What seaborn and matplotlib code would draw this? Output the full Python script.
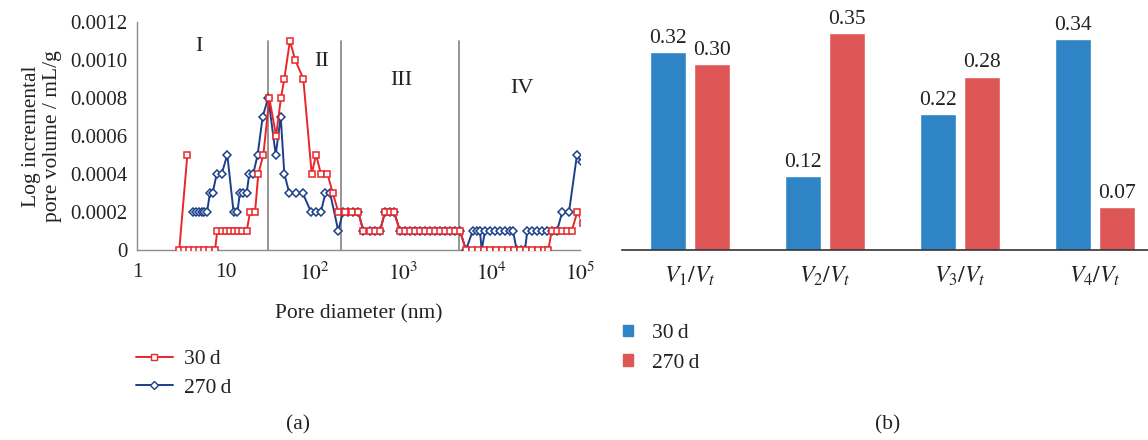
import numpy as np
import pandas as pd
import matplotlib
matplotlib.use("Agg")
import matplotlib.pyplot as plt
from matplotlib.lines import Line2D
from matplotlib.patches import Patch
import seaborn as sns

# ---- (a) pore size distribution -------------------------------------------
# 30 d curve: pore diameter (nm) and log incremental pore volume (mL/g)
d30 = [3.70, 3.00, 3.42, 3.89, 4.43, 5.05, 5.75, 6.55, 7.59,
       8.06, 8.99, 10.0, 11.2, 12.5, 13.9, 15.5, 17.3,
       18.9, 21.5, 23.4, 26.7,
       31.1, 37.1, 42.2, 46.0, 53.3, 60.7, 75.3,
       93.7, 105, 119, 141, 162,
       187, 223, 265, 315,
       358, 427, 485, 553,
       630, 717, 796,
       930, 1059, 1205, 1373, 1563, 1782, 2028, 2307, 2630, 2992, 3412, 3882, 4426,
       5164, 6039, 7063, 8245, 9640, 11270, 13180, 15380, 17990, 21040, 24600,
       28710, 33570, 39260, 43850,
       47960, 54950, 62660, 71300, 80570, 93300, 108000]
v30 = [0.0005, 0, 0, 0, 0, 0, 0, 0, 0,
       0.0001, 0.0001, 0.0001, 0.0001, 0.0001, 0.0001, 0.0001, 0.0001,
       0.0002, 0.0002, 0.0004, 0.0005,
       0.0008, 0.0006, 0.0008, 0.0009, 0.0011, 0.0010, 0.0009,
       0.0004, 0.0005, 0.0004, 0.0004, 0.0003,
       0.0002, 0.0002, 0.0002, 0.0002,
       0.0001, 0.0001, 0.0001, 0.0001,
       0.0002, 0.0002, 0.0002,
       0.0001, 0.0001, 0.0001, 0.0001, 0.0001, 0.0001, 0.0001, 0.0001, 0.0001,
       0.0001, 0.0001, 0.0001, 0.0001,
       0, 0, 0, 0, 0, 0, 0, 0, 0, 0, 0,
       0, 0, 0, 0,
       0.0001, 0.0001, 0.0001, 0.0001, 0.0001, 0.0002, 0.00014]

# 270 d curve
d270 = [4.34, 4.66, 5.00, 5.36, 5.75, 6.17, 6.67, 7.15, 7.94, 9.03, 10.45,
        12.3, 13.6, 14.5, 15.8, 17.3, 18.5, 20.5, 23.0, 26.2, 30.3,
        36.8, 41.9, 46.0, 52.3, 62.3, 74.1, 92.0, 105, 119, 134, 151,
        187, 211, 241, 274, 315,
        358, 427, 485, 553, 630, 717, 796,
        930, 1059, 1205, 1373, 1563, 1782, 2028, 2307, 2630, 2992, 3412, 3882, 4426,
        5164, 6150, 6830, 7430, 7770,
        8470, 9640, 10990, 12510, 14250, 16220, 17520,
        19310, 21580, 23930,
        25410, 28710, 32740, 37240, 42440, 48300, 54950,
        63100, 75160, 92480, 104000]
v270 = [0.0002, 0.0002, 0.0002, 0.0002, 0.0002, 0.0002, 0.0003, 0.0003, 0.0004, 0.0004, 0.0005,
        0.0002, 0.0002, 0.0003, 0.0003, 0.0003, 0.0004, 0.0004, 0.0005, 0.0007, 0.0008,
        0.0005, 0.0007, 0.0004, 0.0003, 0.0003, 0.0003, 0.0002, 0.0002, 0.0002, 0.0003, 0.0003,
        0.0001, 0.0002, 0.0002, 0.0002, 0.0002,
        0.0001, 0.0001, 0.0001, 0.0001, 0.0002, 0.0002, 0.0002,
        0.0001, 0.0001, 0.0001, 0.0001, 0.0001, 0.0001, 0.0001, 0.0001, 0.0001,
        0.0001, 0.0001, 0.0001, 0.0001,
        0, 0.0001, 0.0001, 0.0001, 0,
        0.0001, 0.0001, 0.0001, 0.0001, 0.0001, 0.0001, 0.0001,
        0, 0, 0,
        0.0001, 0.0001, 0.0001, 0.0001, 0.0001, 0.0001, 0.0001,
        0.0002, 0.0002, 0.0005, 0.00046]

# pore-class boundaries (nm) and region names
boundaries = [30, 200, 4300]
region_names = ["I", "II", "III", "IV"]
region_pos = [(5.0, 0.00107), (122, 0.00099), (950, 0.00089), (22000, 0.00085)]

x_ticks = [1, 10, 100, 1000, 10000, 100000]
x_ticklabels = ["1", "10", r"$10^2$", r"$10^3$", r"$10^4$", r"$10^5$"]
y_ticks = [0, 0.0002, 0.0004, 0.0006, 0.0008, 0.0010, 0.0012]
y_ticklabels = ["0", "0.0002", "0.0004", "0.0006", "0.0008", "0.0010", "0.0012"]

# ---- (b) pore volume fractions --------------------------------------------
ratios = [r"$V_1/V_t$", r"$V_2/V_t$", r"$V_3/V_t$", r"$V_4/V_t$"]
frac30 = [0.32, 0.12, 0.22, 0.34]
frac270 = [0.30, 0.35, 0.28, 0.07]
ages = ["30\u2009d", "270\u2009d"]

sns.set_theme(style="white")
plt.rcParams["font.family"] = ["Liberation Serif", "DejaVu Serif"]
plt.rcParams["mathtext.fontset"] = "stix"

RED_LINE = "#e8262b"
BLUE_LINE = "#1c3f8c"
BAR_BLUE = "#2e84c4"
BAR_RED = "#de5656"
GREY = "#8c8c8c"
TXT = "#222222"

fig = plt.figure(figsize=(11.48, 4.40), dpi=100)
W, H = 1148, 440

def box(x0, y_top, x1, y_bot):
    return [x0 / W, 1 - y_bot / H, (x1 - x0) / W, (y_bot - y_top) / H]

ax = fig.add_axes(box(137, 21.5, 580, 250))
ax.set_xscale("log")

for xb in boundaries:
    ax.plot([xb, xb], [0, 0.00110], color=GREY, lw=1.3, zorder=1)

sns.lineplot(x=d270, y=v270, sort=False, estimator=None, ax=ax,
             color=BLUE_LINE, lw=1.4, marker="D", markersize=3.6,
             markerfacecolor="white", markeredgecolor=BLUE_LINE, markeredgewidth=1.1,
             zorder=3)
sns.lineplot(x=d30, y=v30, sort=False, estimator=None, ax=ax,
             color=RED_LINE, lw=1.4, marker="s", markersize=3.8,
             markerfacecolor="white", markeredgecolor=RED_LINE, markeredgewidth=1.1,
             zorder=4)

ax.set_xlim(1, 100000)
ax.set_ylim(0, 0.0012)
ax.set_xticks(x_ticks)
ax.set_xticklabels(x_ticklabels, fontsize=15.5, color=TXT)
ax.minorticks_off()
ax.set_yticks(y_ticks)
ax.set_yticklabels(y_ticklabels, fontsize=15, color=TXT)
ax.tick_params(axis="both", direction="in", length=4, width=0.8, color=GREY, pad=7)
ax.tick_params(axis="x", pad=9)
for s in ["top", "right"]:
    ax.spines[s].set_visible(False)
for s in ["left", "bottom"]:
    ax.spines[s].set_color(GREY)
    ax.spines[s].set_linewidth(1.0)
ax.set_xlabel("Pore diameter (nm)", fontsize=15.5, color=TXT, labelpad=14)
ax.set_ylabel("Log incremental\npore volume / mL/g", fontsize=15.5, color=TXT,
              labelpad=6, linespacing=1.1)
for name, (px, py) in zip(region_names, region_pos):
    ax.text(px, py, name, fontsize=16, color=TXT, ha="center", va="center")

line_handles = [
    Line2D([], [], color=RED_LINE, lw=1.4, marker="s", markersize=5,
           markerfacecolor="white", markeredgecolor=RED_LINE),
    Line2D([], [], color=BLUE_LINE, lw=1.4, marker="D", markersize=4,
           markerfacecolor="white", markeredgecolor=BLUE_LINE),
]
fig.legend(line_handles, ages, loc="upper left", bbox_to_anchor=(136 / W, 1 - 349 / H),
           frameon=False, fontsize=15.5, handlelength=1.7, handletextpad=0.55,
           labelspacing=0.4, borderpad=0, borderaxespad=0, labelcolor=TXT)
fig.text(298 / W, 1 - 425 / H, "(a)", fontsize=15.5, color=TXT, ha="center", va="center")

# ---- bar chart -------------------------------------------------------------
bx = fig.add_axes(box(622, 20, 1148, 250.5))
df = pd.DataFrame({
    "ratio": ratios * 2,
    "value": frac30 + frac270,
    "age": [ages[0]] * 4 + [ages[1]] * 4,
})
sns.barplot(data=df, x="ratio", y="value", hue="age", ax=bx,
            palette=[BAR_BLUE, BAR_RED], width=0.65, gap=0.18,
            saturation=1, legend=False)
for cont in bx.containers:
    bx.bar_label(cont, fmt="%.2f", padding=3, fontsize=15.5, color=TXT)
bx.set_xlim(-0.504, 3.39)
bx.set_ylim(0, 0.371)
bx.set_yticks([])
bx.set_xlabel("")
bx.set_ylabel("")
bx.tick_params(axis="x", length=0, pad=10, labelsize=17, labelcolor=TXT)
for s in ["top", "right", "left"]:
    bx.spines[s].set_visible(False)
bx.spines["bottom"].set_color("#333333")
bx.spines["bottom"].set_linewidth(1.2)

bar_handles = [Patch(color=BAR_BLUE), Patch(color=BAR_RED)]
fig.legend(bar_handles, ages, loc="upper left", bbox_to_anchor=(623 / W, 1 - 324 / H),
           frameon=False, fontsize=15.5, handlelength=0.45, handleheight=0.45,
           handletextpad=0.9, labelspacing=0.5, borderpad=0, borderaxespad=0,
           labelcolor=TXT)
fig.text(888 / W, 1 - 425 / H, "(b)", fontsize=15.5, color=TXT, ha="center", va="center")

fig.savefig("out.png", dpi=100)
